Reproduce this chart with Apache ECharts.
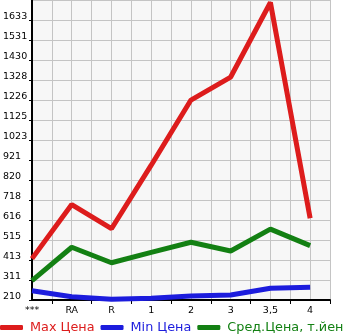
<!DOCTYPE html>
<html>
<head>
<meta charset="utf-8">
<script src="https://cdn.jsdelivr.net/npm/echarts@6/dist/echarts.min.js"></script>
<style>
html,body{margin:0;padding:0;background:#fff;}
#c{width:345px;height:335px;}
</style>
</head>
<body>
<div id="c"></div>
<script>
var categories = ['***', 'RA', 'R', '1', '2', '3', '3,5', '4'];
var maxPrice = [420, 695, 572, 895, 1226, 1343, 1722, 625];
var minPrice = [257, 226, 213, 218, 230, 235, 269, 274];
var avgPrice = [308, 478, 399, 452, 503, 459, 570, 486];
var yTickLabels = [210, 311, 413, 515, 616, 718, 820, 921, 1023, 1125, 1226, 1328, 1430, 1531, 1633];
var seriesNames = ['Max Цена', 'Min Цена', 'Сред.Цена, т.йен'];

var yMin = 629 / 3;
var yStep = 305 / 3;
var yMax = yMin + 15 * yStep;

var xData = [];
categories.forEach(function (c) { xData.push(c); xData.push(''); });

function pts(arr) { return arr.map(function (v, i) { return [2 * i, v]; }); }

var chart = echarts.init(document.getElementById('c'), null, {renderer: 'canvas'});
var font = 'DejaVu Sans';
chart.setOption({
  animation: false,
  grid: {left: 30, right: 15, top: 0, bottom: 35, show: true, backgroundColor: '#f7f7f7', borderWidth: 0},
  legend: {
    left: 0, top: 321, width: 600, padding: 0, itemGap: 6, itemWidth: 23, itemHeight: 5, icon: 'roundRect',
    textStyle: {fontFamily: font, fontSize: 12.8, padding: [0, 0, 0, 2]},
    data: seriesNames.map(function (n, i) {
      return {name: n, textStyle: {color: ['#dd1c1c', '#1c1cdd', '#138013'][i]}};
    })
  },
  xAxis: {
    type: 'category', data: xData, boundaryGap: false,
    axisLine: {lineStyle: {color: '#000', width: 2}},
    axisTick: {show: true, length: 4, interval: function (i) { return i % 2 === 1; }, lineStyle: {color: '#000'}},
    axisLabel: {interval: function (i) { return i % 2 === 0; }, fontFamily: font, fontSize: 9.5, color: '#000', margin: 6},
    splitLine: {show: true, interval: 0, lineStyle: {color: '#c4c4c4', width: 1}}
  },
  yAxis: {
    type: 'value', min: yMin, max: yMax, interval: yStep,
    axisLine: {show: true, lineStyle: {color: '#000', width: 2}},
    axisTick: {show: true, length: 3, lineStyle: {color: '#000'}},
    axisLabel: {
      showMaxLabel: false, fontFamily: font, fontSize: 9.5, color: '#000', align: 'left', margin: 29,
      verticalAlign: 'bottom', lineHeight: 6,
      formatter: function (v) { var i = Math.round((v - yMin) / yStep); return yTickLabels[i] !== undefined ? String(yTickLabels[i]) : ''; }
    },
    splitLine: {show: true, lineStyle: {color: '#c4c4c4', width: 1}}
  },
  series: [
    {name: seriesNames[0], type: 'line', data: pts(maxPrice), showSymbol: false, symbol: 'none', lineStyle: {width: 5, color: '#dd1c1c'}, itemStyle: {color: '#dd1c1c'}, z: 3},
    {name: seriesNames[1], type: 'line', data: pts(minPrice), showSymbol: false, symbol: 'none', lineStyle: {width: 5, color: '#1c1cdd'}, itemStyle: {color: '#1c1cdd'}, z: 2},
    {name: seriesNames[2], type: 'line', data: pts(avgPrice), showSymbol: false, symbol: 'none', lineStyle: {width: 5, color: '#138013'}, itemStyle: {color: '#138013'}, z: 2}
  ]
});
</script>
</body>
</html>
